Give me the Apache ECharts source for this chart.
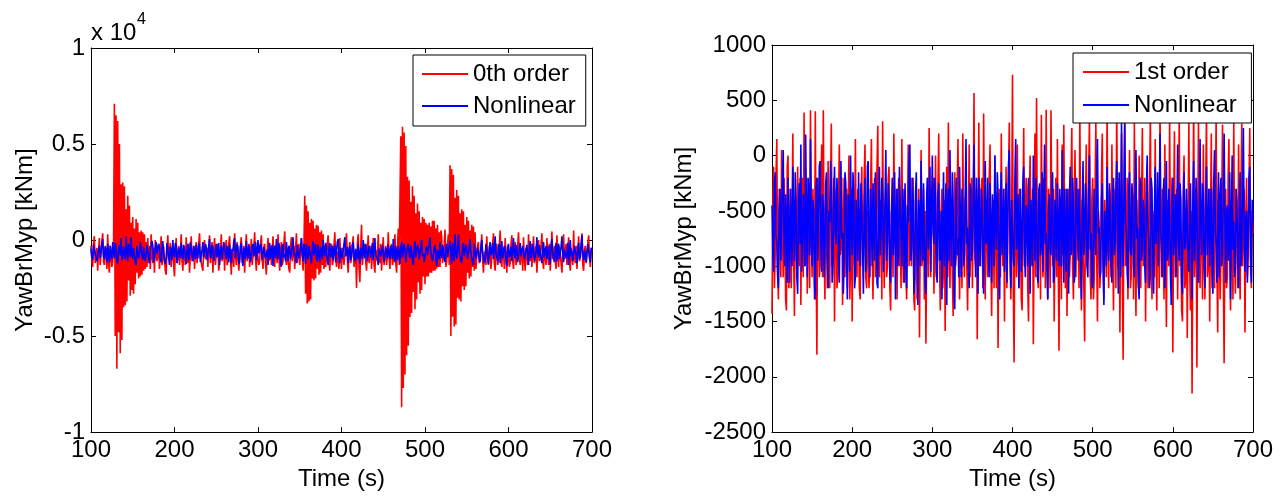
<!DOCTYPE html>
<html>
<head>
<meta charset="utf-8">
<script src="https://cdn.jsdelivr.net/npm/echarts@6/dist/echarts.min.js"></script>
<style>
html,body{margin:0;padding:0;background:#fff;}
#chart{width:1284px;height:496px;}
</style>
</head>
<body>
<div id="chart"></div>
<script>
// Sampling grid of the recorded signals (s)
const timeStart = 100;
const timeStep = 1;

// Tick labels
const timeTicks = ['100','200','300','400','500','600','700'];
const leftYTicks = ['-1','-0.5','0','0.5','1'];       // x 10^4 kNm
const rightYTicks = ['-2500','-2000','-1500','-1000','-500','0','500','1000'];

// Nonlinear (kNm), one value per second from 100 s to 700 s - same signal in both panels
const nonlinear = [
 -450,-900,-1050,-250,-150,-700,-800,-1100,-1200,-500,-300,-950,-650,-200,50,-850,-1000,-350,-550,-1150,
 -200,-750,-1150,-300,-700,-1000,-100,-600,-950,-150,-400,-1100,-1250,-450,-250,-800,100,-1050,-900,-350,
 -600,-1000,190,-550,-1100,-200,-350,-900,150,-700,-1000,-400,-500,-1150,-1300,-300,-200,-950,-750,-100,
 -50,-800,-1050,-350,-450,-1100,-850,-250,-150,-900,-1200,-500,-600,-50,-300,-1150,-1000,-400,-100,-700,
 -800,-200,-400,-1000,-1150,-450,-50,-750,-700,-1250,-950,-150,-250,-900,-1300,-350,-500,-1050,0,-650,
 -900,-150,-300,-1200,-1100,-400,-650,-950,-150,-700,-1000,-250,-450,-850,-1250,-550,-200,-1050,-750,-100,
 -50,-850,-1100,-300,-550,-1000,-250,-700,-950,-150,-400,-1150,-1200,-500,-100,-900,-700,-200,-350,-1050,
 -1050,-400,50,-950,-800,-250,-450,-1100,-1150,-550,-200,-900,-650,-150,-1300,-600,-300,-1000,-900,-100,
 -100,-750,-1000,-300,-500,-1150,-250,-800,-1200,-450,-600,-50,100,-950,-850,-200,-400,-1250,-1100,-350,
 -150,-900,-1350,-400,-550,-1000,-50,-650,-950,-250,-700,-1150,-1250,-350,-200,-850,-600,-100,-1050,-500,
 0,-700,-800,-200,-400,-1050,-1150,-350,-250,-950,-900,-500,-1300,-600,-150,-1000,-650,-250,-1350,-450,
 -300,-950,50,-600,-1000,-150,-500,-1200,-1390,-400,-200,-900,-750,-1100,-100,-550,-1100,-300,-450,-1000,
 -900,-350,150,-800,-650,-1050,-1200,-250,-300,-950,-850,-400,100,-700,-1100,-200,-500,-1250,-200,-750,
 -1000,-300,-400,-900,-1250,-500,-50,-800,-750,-200,-950,-1100,-250,-650,-1150,-350,-550,-1000,0,-600,
 -850,-150,-350,-1050,-1300,-450,-150,-900,-700,-300,-1050,-550,-250,-1150,-600,-100,50,-800,-1200,-400,
 -400,-950,-1000,-200,150,-850,-700,-350,-1200,-600,-300,-1050,-850,-250,-100,-900,-1100,-450,-550,-1000,
 -200,-700,-1250,-400,-650,-1000,0,-550,-950,-200,-450,-1100,-1150,-300,-250,-900,-800,-150,-1050,-500,
 100,-800,-700,-1000,-1300,-450,-350,-850,-900,-250,-150,-1150,-1100,-400,-600,-950,-250,-700,-1000,-300,
 -500,-1000,50,-650,-1150,-300,-750,-1050,-300,-600,-1250,-400,-100,-900,-850,-200,-450,-1150,-1050,-350,
 -200,-700,-950,-300,-600,-1050,-1300,-450,-50,-900,-800,-250,-400,-1000,-1100,-350,0,-850,-700,-1150,
 -1200,-550,-300,-800,-900,-200,150,-700,-650,-1100,-1050,-400,-250,-950,-1350,-500,-500,-1000,-100,-750,
 -950,-250,-450,-1000,-1150,-350,-200,-900,-800,-300,-50,-700,-1250,-150,-600,-1100,300,-650,-1000,-400,
 290,-600,-700,-1050,-1200,-300,-150,-850,-900,-250,-400,-1000,-1100,-350,50,-750,-650,-1150,-1300,-200,
 -250,-950,-850,-400,-500,-1000,-1150,-350,0,-650,-750,-1200,-1050,-200,-300,-900,-1250,-550,-100,-800,
 -600,-150,-1000,-500,200,-700,-800,-1100,-350,-200,-1200,-650,-50,-950,-900,-300,-550,-1050,-1350,-400,
 -200,-900,-700,-350,-1100,-600,100,-750,-950,-250,-400,-1150,-1250,-500,-150,-850,-800,-300,-600,-1000,
 -1050,-500,-250,-850,-1300,-400,-50,-950,-750,-200,-450,-1100,-1150,-600,150,-700,-900,-250,-350,-1000,
 -1200,-450,-100,-900,-650,-300,-1000,-550,-300,-1050,-1250,-250,50,-700,-800,-1150,-550,-150,-1100,-400,
 -200,-1000,-900,-350,200,-650,-1150,-500,-450,-950,-750,-150,-1300,-600,0,-850,-600,-1100,-1000,-300,
 -300,-800,-1200,-450,-150,-1000,-850,-300,250,-700,-1050,-550,-500,-1150,-700,-200,-100,-900,-1150,-400,
 -600
];

// 0th order (kNm), one value per second from 100 s to 700 s
const order0 = [
 -300,-1000,-1400,-200,200,-1200,-900,-400,-1600,-600,100,-1300,-700,-100,350,-1100,-1300,-300,-500,-1500,
 300,-1200,-1700,-300,-200,-1400,-1100,-500,7100,-5000,6500,-6700,6200,-4800,5000,-5900,2900,-5200,3000,-3500,
 2800,-3400,1600,-3200,2300,-2100,1800,-2900,900,-2600,1200,-2800,600,-2300,1100,-1700,900,-2000,400,-1900,
 500,-1800,400,-1600,300,-1500,-100,-1400,100,-1200,-300,-1500,300,-900,-1200,-400,-1700,0,100,-1100,
 -800,-200,-1500,-600,200,-1300,-1100,-300,-400,-1600,-1800,-500,250,-1000,-1000,-150,-1400,-700,-200,-1300,
 -1900,-600,100,-1200,-900,-300,-1300,-700,300,-1100,-1600,-400,-500,-1300,150,-900,-1200,-200,-1700,-800,
 200,-1100,-1000,-300,-1500,-600,-100,-1200,-1300,-200,350,-900,-800,-1400,-1600,-300,0,-1000,-1100,-400,
 -1400,-300,250,-1200,-700,-100,-1700,-500,100,-1300,-1200,-200,-400,-1600,-1500,-600,300,-1100,-900,-200,
 -1600,-400,0,-1300,-1100,-200,200,-900,-1800,-500,-600,-1400,350,-800,-1300,-100,-200,-1600,-1500,-300,
 150,-1200,-1000,-300,-1700,-600,300,-1100,-800,-200,-1400,-700,50,-1300,-1200,-400,400,-900,-1600,-500,
 -500,-1300,-1100,-200,250,-1000,-1500,-400,-200,-1200,-1800,-600,100,-1100,-900,-300,-1300,-700,200,-1000,
 -1400,-300,-400,-1200,300,-800,-1600,-500,-100,-1300,-1100,-200,450,-900,-1300,-600,-700,-1500,-1700,-300,
 150,-1100,-1000,-300,-1500,-500,350,-1200,-800,-200,-1300,-600,100,-900,-1600,-400,2300,-2800,1800,-3300,
 1500,-3200,900,-3100,1100,-2000,1000,-2100,600,-2000,800,-1500,750,-1800,400,-1700,500,-1300,300,-1500,
 -300,-1400,-1300,-200,250,-1100,-1600,-500,-200,-1300,-1100,-300,400,-900,-1400,-600,-600,-1500,100,-800,
 -1500,-400,-300,-1300,-1200,-200,350,-1000,-1700,-500,-100,-1200,-900,-300,200,-1400,-1400,-600,-2500,-200,
 300,-1500,-2200,-400,800,-1300,-1300,-200,-200,-1100,-1600,-500,250,-1200,-1100,-300,-1500,-700,100,-1300,
 -1700,-500,-400,-1100,300,-900,-1200,-200,-1600,-600,150,-1300,-900,-300,-1300,-800,400,-1000,-1500,-400,
 -200,-1300,-1100,-300,300,-1200,-1700,-400,600,-1300,-1400,5400,-8700,5900,-7700,5600,-7000,4900,-6000,3300,
 -5500,3100,-4000,2000,-3800,2800,-2700,2300,-3600,1400,-3100,1900,-2200,1500,-2800,900,-2600,1200,-1900,1100,
 -2300,900,-1900,800,-1900,900,-1700,700,-1700,1000,-1600,1000,-1600,600,-1500,800,-1400,400,-1400,500,
 200,-1200,-1300,-300,550,-1400,-1100,-200,300,-1300,3900,-5000,3700,-4000,3400,-4500,2200,-4400,2600,-3000,
 2300,-3100,1400,-3200,1600,-2400,1500,-2600,800,-2400,1200,-1700,1000,-2000,500,-1900,800,-1400,700,-1600,
 400,-1500,-1400,-300,-100,-1200,-1200,-400,300,-1000,-1700,-600,-500,-1300,200,-900,-1300,-300,-700,-1500,
 -900,-200,350,-1200,-1600,-500,-200,-1300,-1100,-300,500,-1000,-1400,-400,-600,-1500,100,-800,-1700,-300,
 -300,-1400,-1200,-200,250,-1100,-1500,-600,-100,-1300,-1000,-300,400,-900,-1300,-500,-700,-1600,150,-1000,
 -1600,-400,-400,-1300,300,-900,-1100,-200,-1400,-600,200,-1200,-900,-300,-1700,-700,0,-1100,-1200,-300,
 350,-1100,-1500,-400,-500,-1300,100,-800,-1300,-200,-1600,-600,450,-1000,-800,-300,-1100,-1500,250,-700,
 -1400,-300,-200,-1200,-1700,-500,300,-1000,-900,-200,-1300,-700,150,-1100,-1600,-400,-400,-1300,500,-900,
 -1200,-300,-1500,-600,200,-1100,-800,-200,350,-1300,-1600,-500,-300,-1200,-1100,-200,250,-900,-1400,-600,
 -500
];

// 1st order (kNm), one value per second from 100 s to 700 s
const order1 = [
 -1430,-500,-100,-1200,-900,-200,150,-1000,-1300,-300,-400,-1100,50,-700,-1100,-200,-600,-1300,-1400,-100,
 0,-1200,-800,-300,-1200,-600,200,-900,-1450,-400,-500,-1100,-100,-800,-1000,-200,-1350,-500,-200,-1100,
 390,-1000,-900,-200,-1250,-700,-300,-1200,410,-600,-1100,-300,-600,-1300,400,-900,-1800,-200,-400,-1100,
 -1000,-300,100,-1100,410,-800,-1300,-400,-700,-1200,-50,-900,-1200,-300,290,-1000,-900,-200,-1500,-600,
 -300,-1200,-1100,-400,100,-900,-800,-200,-1350,-600,-200,-1100,-700,-300,-1200,-500,0,-1300,-1000,-300,
 -1500,-600,-400,-1000,150,-800,-1100,-300,-700,-1200,-1300,-400,-100,-1000,-900,-200,100,-1100,-1200,-500,
 -500,-1200,-1000,-300,150,-900,-1300,-500,-200,-1100,-800,-100,270,-1000,-1100,-400,-600,-1300,310,-700,
 -1200,-500,-300,-1100,-1000,-200,-100,-1200,-1400,-500,-600,-1100,200,-700,-900,-300,-1300,-600,-200,-1000,
 -700,-1200,150,-900,-1150,-300,-400,-1100,-1300,-500,100,-1000,-800,-200,-1000,-600,-200,-1300,-1400,-400,
 -500,-1300,-1100,-300,-1645,-600,50,-1000,-900,-300,-1300,-500,-1700,-800,-200,-1100,250,-700,-1100,-400,
 -600,-200,-1250,-700,0,-1100,-900,-300,200,-1000,-1400,-500,-300,-1200,-1000,-400,-1585,-600,-100,-1100,
 300,-900,-1200,-400,-700,-1100,-1450,-500,-150,-1000,-900,-300,150,-800,-1300,-600,-500,-1200,200,-700,
 -1100,-400,-350,-1000,-1400,-600,100,-1100,-800,-200,-1200,-500,565,-900,-1000,-300,-1660,-600,300,-1000,
 -900,-300,-200,-1200,380,-700,-1300,-400,-600,-1100,-1100,-200,100,-900,-1450,-500,-400,-1200,0,-800,
 -1200,-400,-1740,-600,-300,-1100,200,-700,-1000,-300,-1500,-600,-100,-1200,-800,-200,300,-1000,-1300,-500,
 730,-1200,-1870,-400,-500,-1100,100,-900,-1200,-300,-800,-1300,-1400,-500,250,-1000,-1000,-200,-300,-1200,
 -1500,-400,0,-1000,-900,-300,-1705,-700,200,-1100,520,-800,-1200,-300,-600,-1300,370,-700,-1100,-200,
 -400,-1200,415,-800,-1300,-300,-700,-1200,410,-600,-1000,-300,-1500,-700,-200,-1100,150,-900,-1765,-400,
 -600,-1300,100,-900,280,-700,-1200,-300,-1450,-600,-300,-1100,-900,-200,250,-1000,-1300,-400,50,-1100,
 -1100,-300,-500,-1200,400,-800,-1400,-400,-800,-1200,-1680,-500,100,-1000,-900,-200,350,-1100,-1300,-400,
 -200,-1300,-1100,-300,300,-900,-1500,-500,-600,-1200,-1000,-200,200,-1000,-1300,-400,-400,-1100,450,-800,
 -1200,-300,-700,-1100,100,-800,-1400,-400,-300,-1200,500,-700,-1000,-200,-1600,-500,200,-1100,-1846,-300,
 350,-1000,-800,-200,-1300,-600,50,-1200,-1100,-300,-400,-1300,300,-800,-1450,-400,-700,-1200,0,-900,
 -1200,-400,250,-1000,-900,-200,-1500,-600,-100,-1200,-1000,-300,400,-900,-1300,-500,-600,-1100,150,-800,
 -1400,-500,-300,-1200,450,-700,-1100,-300,-800,-1300,100,-900,-1550,-400,-500,-1000,350,-800,-1200,-200,
 -1780,-500,220,-1100,-900,-300,-1300,-600,380,-1000,-700,-1400,-1500,-300,0,-1200,-1100,-400,-1650,-600,
 300,-1000,-1400,-500,-2150,-700,500,-1100,-800,-300,-1915,-600,295,-900,-1200,-400,-600,-1300,100,-800,
 -1300,-300,400,-1100,-1000,-300,-1500,-600,200,-1200,-700,-200,-1200,-500,350,-1000,-1600,-400,-400,-1300,
 -900,-400,280,-1100,-1877,-600,-300,-1200,-1100,-200,150,-900,-1400,-500,-700,-1300,300,-800,-1250,-300,
 -500,-1200,100,-900,-1300,-400,290,-1000,-1000,-300,-1600,-600,-200,-1100,-900,-300,250,-1000,-1200,-500,
 -700
];

const FONT = '"Liberation Sans", Arial, Helvetica, sans-serif';
const withTime = vals => vals.map((v, i) => [timeStart + i * timeStep, v]);

function bottomX(gridIndex) {
  return {
    type: 'value', gridIndex, position: 'bottom', min: 100, max: 700, interval: 100,
    name: 'Time (s)', nameLocation: 'middle', nameGap: 30,
    nameTextStyle: { fontSize: 24, color: '#000', fontFamily: FONT },
    axisLine: { show: true, onZero: false, lineStyle: { color: '#000', width: 1 } },
    axisTick: { show: true, inside: true, length: 5, lineStyle: { color: '#000' } },
    axisLabel: { fontSize: 24, color: '#000', fontFamily: FONT, margin: 6,
      formatter: v => timeTicks[Math.round((v - 100) / 100)] },
    splitLine: { show: false }
  };
}
function topX(gridIndex) {
  return {
    type: 'value', gridIndex, position: 'top', min: 100, max: 700, interval: 100,
    axisLine: { show: true, onZero: false, lineStyle: { color: '#000', width: 1 } },
    axisTick: { show: true, inside: true, length: 5, lineStyle: { color: '#000' } },
    axisLabel: { show: false }, splitLine: { show: false }
  };
}
function leftY(gridIndex, min, max, interval, labels, gap) {
  return {
    type: 'value', gridIndex, position: 'left', min, max, interval,
    name: 'YawBrMyp [kNm]', nameLocation: 'middle', nameGap: gap, nameRotate: 90,
    nameTextStyle: { fontSize: 24, color: '#000', fontFamily: FONT },
    axisLine: { show: true, onZero: false, lineStyle: { color: '#000', width: 1 } },
    axisTick: { show: true, inside: true, length: 5, lineStyle: { color: '#000' } },
    axisLabel: { fontSize: 24, color: '#000', fontFamily: FONT, margin: 6,
      formatter: v => labels[Math.round((v - min) / interval)] },
    splitLine: { show: false }
  };
}
function rightY(gridIndex, min, max, interval) {
  return {
    type: 'value', gridIndex, position: 'right', min, max, interval,
    axisLine: { show: true, onZero: false, lineStyle: { color: '#000', width: 1 } },
    axisTick: { show: true, inside: true, length: 5, lineStyle: { color: '#000' } },
    axisLabel: { show: false }, splitLine: { show: false }
  };
}
function legendBox(left, top, names, gap, pad) {
  return {
    orient: 'vertical', left, top, data: names,
    icon: 'rect', itemWidth: 46, itemHeight: 2,
    backgroundColor: '#fff', borderColor: '#000', borderWidth: 1, borderRadius: 0,
    padding: pad, itemGap: gap,
    textStyle: { fontSize: 24, color: '#000', fontFamily: FONT, lineHeight: 26 },
    selectedMode: false
  };
}
function lineSeries(name, vals, color, xi, yi) {
  return {
    name, type: 'line', xAxisIndex: xi, yAxisIndex: yi, data: withTime(vals),
    showSymbol: false, symbol: 'none',
    lineStyle: { color, width: 1.6 }, itemStyle: { color },
    animation: false, silent: true
  };
}

const chart = echarts.init(document.getElementById('chart'), null, { renderer: 'canvas' });
chart.setOption({
  animation: false,
  backgroundColor: '#fff',
  textStyle: { fontFamily: FONT },
  grid: [
    { left: 91, top: 48, width: 501, height: 385 },
    { left: 772, top: 45, width: 481, height: 388 }
  ],
  xAxis: [bottomX(0), topX(0), bottomX(1), topX(1)],
  yAxis: [
    leftY(0, -10000, 10000, 5000, leftYTicks, 54), rightY(0, -10000, 10000, 5000),
    leftY(1, -2500, 1000, 500, rightYTicks, 76), rightY(1, -2500, 1000, 500)
  ],
  legend: [
    legendBox(413, 55, ['0th order', 'Nonlinear'], 6, [6, 10, 7, 9]),
    legendBox(1073, 53, ['1st order', 'Nonlinear '], 7, [6, 8, 5, 10])
  ],
  graphic: [
    { type: 'text', left: 91, top: 21, style: { text: 'x 10', font: '24px ' + FONT, fill: '#000' } },
    { type: 'text', left: 137, top: 12, style: { text: '4', font: '16px ' + FONT, fill: '#000' } }
  ],
  series: [
    lineSeries('0th order', order0, '#ff0000', 0, 0),
    lineSeries('Nonlinear', nonlinear, '#0000ff', 0, 0),
    lineSeries('1st order', order1, '#ff0000', 2, 2),
    lineSeries('Nonlinear ', nonlinear, '#0000ff', 2, 2)
  ]
});
</script>
</body>
</html>
